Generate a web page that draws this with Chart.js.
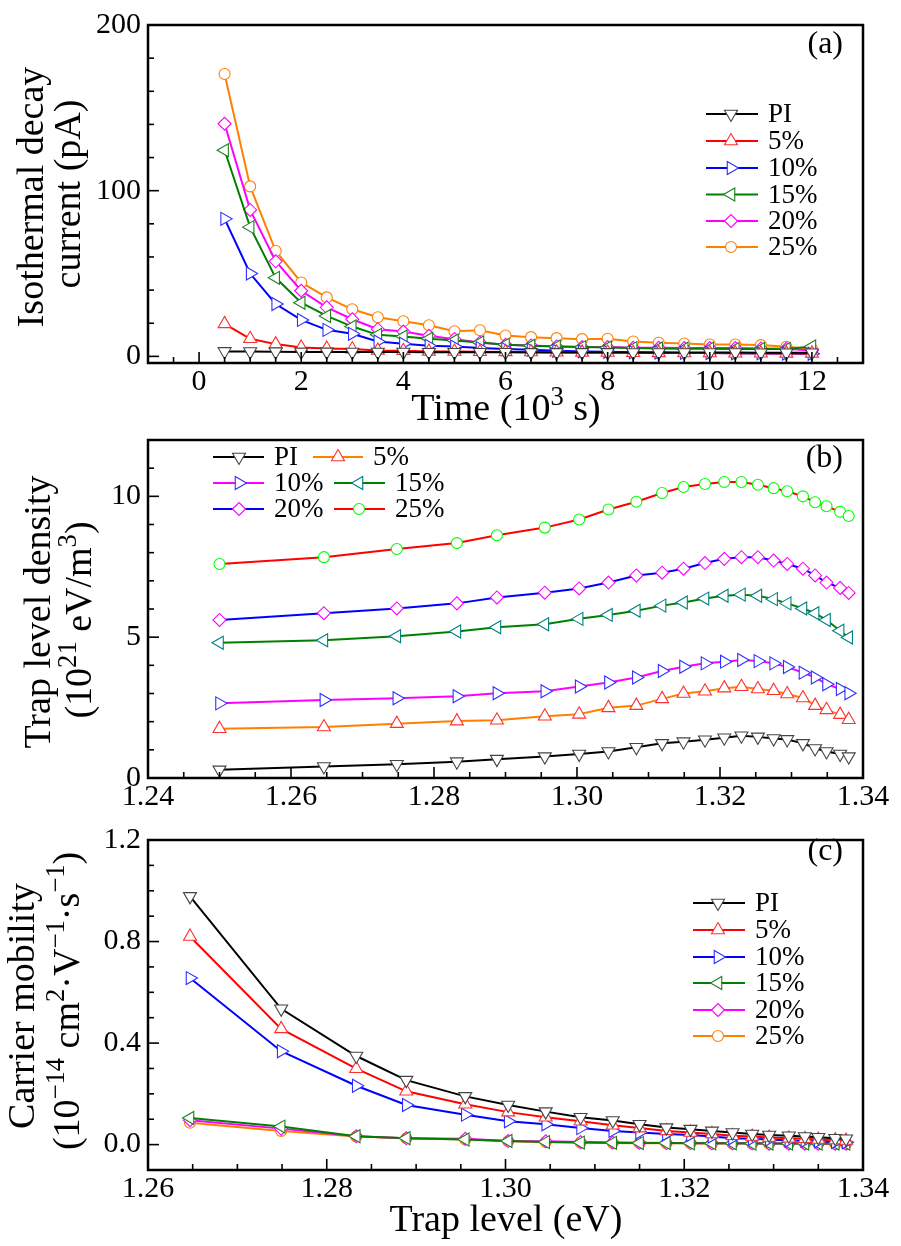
<!DOCTYPE html>
<html><head><meta charset="utf-8">
<script src="https://cdn.jsdelivr.net/npm/chart.js@4.4.0/dist/chart.umd.min.js"></script>
<style>
html,body{margin:0;padding:0;background:#fff;}
#wrap{position:relative;width:901px;height:1246px;overflow:hidden;}
canvas{position:absolute;left:0;}
</style></head><body>
<div id="wrap">
<canvas id="ca" width="901" height="440" style="top:0px"></canvas>
<canvas id="cb" width="901" height="410" style="top:415px"></canvas>
<canvas id="cc" width="901" height="431" style="top:815px"></canvas>
</div>
<script>
// ---------- DATA ----------
const seriesNames = ['PI', '5%', '10%', '15%', '20%', '25%'];

// Panel (a): isothermal decay current (pA) vs time (10^3 s)
const timeA = [0.5,1.0,1.5,2.0,2.5,3.0,3.5,4.0,4.5,5.0,5.5,6.0,6.5,7.0,7.5,8.0,8.5,9.0,9.5,10.0,10.5,11.0,11.5,12.0];
const piA  = [3.0,2.9,2.8,2.7,2.7,2.6,2.6,2.6,2.5,2.5,2.5,2.5,2.4,2.4,2.4,2.4,2.3,2.3,2.3,2.3,2.3,2.2,2.2,2.2];
const p5A  = [19.6,10.6,7.4,5.4,4.8,4.4,3.6,3.4,3.0,2.9,2.8,2.7,2.6,2.5,2.4,2.3,2.2,2.1,2.0,2.0,1.9,1.9,1.8,1.8];
const p10A = [83,50,31.6,22,16,13.6,9.0,7.6,6.4,6.0,5.0,4.4,4.0,3.4,3.0,2.8,2.5,2.3,2.1,2.0,1.9,1.8,1.7,1.6];
const p15A = [124.4,78,47.4,32.4,24.4,18,13,12,10.6,9.6,8.4,7.0,6.4,6.0,5.6,5.4,5.0,4.8,4.6,4.6,4.5,4.5,4.5,6.0];
const p20A = [140.4,88.4,57.4,39.6,29.6,22.4,16.4,15,12.4,10.4,8.4,7.0,6.6,6.0,5.6,5.6,5.2,5.2,5.0,5.0,5.0,4.8,4.6,3.6];
const p25A = [170.4,102.6,63.6,44.6,35.6,28.4,23.6,21.2,18.8,15.2,15.8,12.6,11.6,11.0,10.4,10.6,9.0,8.2,7.8,7.2,7.2,6.8,5.8,4.4];
const xTicksA = [0,2,4,6,8,10,12];
const yTicksA = [0,100,200];

// Panel (b): trap level density (10^21 eV/m^3) vs trap level (eV)
const trapLevelB = [1.2500,1.2646,1.2748,1.2832,1.2888,1.2955,1.3003,1.3044,1.3083,1.3119,1.3149,1.3179,1.3206,1.3230,1.3253,1.3275,1.3294,1.3316,1.3333,1.3349,1.3368,1.3380];
const piB  = [0.29,0.41,0.49,0.58,0.67,0.76,0.85,0.94,1.09,1.23,1.29,1.36,1.43,1.50,1.46,1.40,1.37,1.23,1.05,0.94,0.85,0.76];
const p5B  = [1.75,1.81,1.93,2.02,2.05,2.19,2.26,2.49,2.57,2.81,3.00,3.08,3.19,3.24,3.16,3.10,2.98,2.84,2.57,2.42,2.25,2.07];
const p10B = [2.65,2.77,2.83,2.90,3.01,3.08,3.25,3.39,3.57,3.80,3.95,4.07,4.13,4.19,4.15,4.07,3.94,3.74,3.57,3.33,3.16,3.01];
const p15B = [4.80,4.89,5.03,5.20,5.35,5.46,5.65,5.79,5.94,6.12,6.23,6.37,6.47,6.51,6.47,6.35,6.20,6.02,5.85,5.61,5.23,4.99];
const p20B = [5.61,5.85,6.02,6.20,6.41,6.58,6.73,6.94,7.19,7.29,7.43,7.63,7.78,7.84,7.84,7.72,7.60,7.43,7.19,6.94,6.75,6.57];
const p25B = [7.60,7.84,8.13,8.34,8.62,8.89,9.18,9.53,9.81,10.12,10.33,10.44,10.51,10.51,10.41,10.29,10.18,10.00,9.79,9.65,9.45,9.30];
const xTicksB = [1.24,1.26,1.28,1.30,1.32,1.34];
const yTicksB = [0,5,10];

// Panel (c): carrier mobility (10^-14 cm^2 V^-1 s^-1) vs trap level (eV)
const trapLevelC = [1.2647,1.2749,1.2833,1.2889,1.2955,1.3003,1.3045,1.3084,1.3120,1.3150,1.3180,1.3207,1.3231,1.3254,1.3276,1.3295,1.3317,1.3335,1.3350,1.3369,1.3381];
const piC  = [0.978,0.535,0.349,0.254,0.190,0.156,0.130,0.108,0.095,0.080,0.067,0.061,0.054,0.048,0.042,0.038,0.035,0.032,0.029,0.025,0.023];
const p5C  = [0.820,0.456,0.299,0.210,0.159,0.128,0.108,0.092,0.076,0.065,0.054,0.048,0.042,0.035,0.032,0.028,0.025,0.023,0.020,0.018,0.016];
const p10C = [0.656,0.368,0.232,0.156,0.118,0.092,0.080,0.065,0.054,0.048,0.042,0.038,0.032,0.025,0.023,0.020,0.016,0.015,0.013,0.010,0.009];
const p15C = [0.105,0.071,0.033,0.025,0.020,0.014,0.010,0.008,0.007,0.006,0.006,0.005,0.005,0.005,0.004,0.004,0.004,0.004,0.004,0.004,0.004];
const p20C = [0.096,0.063,0.033,0.025,0.023,0.014,0.013,0.010,0.008,0.007,0.006,0.006,0.005,0.005,0.005,0.004,0.004,0.004,0.004,0.004,0.004];
const p25C = [0.086,0.054,0.032,0.025,0.020,0.013,0.010,0.008,0.006,0.005,0.005,0.005,0.004,0.004,0.004,0.004,0.004,0.004,0.003,0.003,0.003];
const xTicksC = [1.26,1.28,1.30,1.32,1.34];
const yTicksC = [0.0,0.4,0.8,1.2];

// ---------- STYLE ----------
const FONT = '"Liberation Serif", "Times New Roman", serif';
const TITLE_SIZE = 38;
const markers = [
  {style:'triangle', rot:180, r:7.5},
  {style:'triangle', rot:0,   r:7.5},
  {style:'triangle', rot:90,  r:7.5},
  {style:'triangle', rot:270, r:7.5},
  {style:'rectRot',  rot:0,   r:6.5},
  {style:'circle',   rot:0,   r:5.5}
];

function makeDatasets(xs, ys, lineColors, markColors) {
  return ys.map((vals, i) => ({
    label: seriesNames[i],
    data: xs.map((x, k) => ({x: x, y: vals[k]})),
    borderColor: lineColors[i],
    borderWidth: 2,
    pointStyle: markers[i].style,
    pointRotation: markers[i].rot,
    pointRadius: markers[i].r,
    pointBorderColor: markColors[i],
    pointBackgroundColor: '#ffffff',
    pointBorderWidth: 1.1,
    tension: 0,
    clip: false
  }));
}

function parseRich(s) {
  const parts = []; let re = /\^\{([^}]*)\}/g, last = 0, m;
  while ((m = re.exec(s))) {
    if (m.index > last) parts.push({t: s.slice(last, m.index), sup: false});
    parts.push({t: m[1], sup: true});
    last = re.lastIndex;
  }
  if (last < s.length) parts.push({t: s.slice(last), sup: false});
  return parts;
}
function drawRich(ctx, str, x, y, size, rot) {
  const parts = parseRich(str);
  ctx.save();
  ctx.translate(x, y);
  if (rot) ctx.rotate(rot);
  const sup = size * 0.7;
  let w = 0;
  const ws = parts.map(p => { ctx.font = (p.sup ? sup : size) + 'px ' + FONT; const v = ctx.measureText(p.t).width; w += v; return v; });
  let cx = -w / 2;
  ctx.fillStyle = '#000'; ctx.textBaseline = 'alphabetic'; ctx.textAlign = 'left';
  parts.forEach((p, i) => {
    ctx.font = (p.sup ? sup : size) + 'px ' + FONT;
    ctx.fillText(p.t, cx, p.sup ? -size * 0.4 : 0);
    cx += ws[i];
  });
  ctx.restore();
}

function drawMarker(ctx, ds, x, y) {
  ctx.save();
  ctx.fillStyle = '#ffffff';
  ctx.strokeStyle = ds.pointBorderColor;
  ctx.lineWidth = ds.pointBorderWidth;
  const opts = {pointStyle: ds.pointStyle, rotation: ds.pointRotation, radius: ds.pointRadius, borderWidth: ds.pointBorderWidth};
  if (Chart.helpers && Chart.helpers.drawPoint) {
    Chart.helpers.drawPoint(ctx, opts, x, y);
  }
  ctx.restore();
}

const deco = {
  id: 'deco',
  afterDraw(chart, args, o) {
    const ctx = chart.ctx, a = chart.chartArea;
    const xs = chart.scales.x, ys = chart.scales.y;
    ctx.save();
    // inward ticks
    ctx.strokeStyle = '#000'; ctx.lineWidth = 1.6;
    const tick = (sc, start, step, major, horiz) => {
      const n = Math.round((sc.max - start) / step);
      for (let k = 0; k <= n; k++) {
        const v = start + k * step;
        if (v < sc.min - 1e-9 || v > sc.max + 1e-9) continue;
        const isMaj = Math.abs(v / major - Math.round(v / major)) < 1e-6;
        const len = isMaj ? 11 : 6;
        const p = sc.getPixelForValue(v);
        ctx.beginPath();
        if (horiz) { ctx.moveTo(p, a.bottom); ctx.lineTo(p, a.bottom - len); }
        else { ctx.moveTo(a.left, p); ctx.lineTo(a.left + len, p); }
        ctx.stroke();
      }
    };
    tick(xs, o.xMinorStart, o.xMinor, o.xMajor, true);
    tick(ys, o.yMinorStart, o.yMinor, o.yMajor, false);
    // frame
    ctx.lineWidth = 2.5;
    ctx.strokeRect(a.left, a.top, a.right - a.left, a.bottom - a.top);
    // panel label
    ctx.fillStyle = '#000';
    ctx.font = '32px ' + FONT; ctx.textAlign = 'right'; ctx.textBaseline = 'middle';
    ctx.fillText(o.panel, 843, o.panelY);
    // titles
    o.yTitles.forEach(t => drawRich(ctx, t.text, t.x, t.y, TITLE_SIZE, -Math.PI / 2));
    if (o.xTitle.text) drawRich(ctx, o.xTitle.text, o.xTitle.x, o.xTitle.y, TITLE_SIZE, 0);
    // legend
    o.legend.forEach(it => {
      const ds = chart.data.datasets[it.ds];
      ctx.strokeStyle = ds.borderColor; ctx.lineWidth = 2;
      ctx.beginPath(); ctx.moveTo(it.x1, it.y); ctx.lineTo(it.x2, it.y); ctx.stroke();
      drawMarker(ctx, ds, it.xm, it.y);
      ctx.fillStyle = '#000'; ctx.font = '27px ' + FONT; ctx.textAlign = 'left'; ctx.textBaseline = 'middle';
      ctx.fillText(ds.label, it.xt, it.y + 1);
    });
    ctx.restore();
  }
};

function axis(min, max, tickVals, fmt, fitKey, fitVal, pad) {
  return {
    type: 'linear', min: min, max: max,
    afterBuildTicks: s => { s.ticks = tickVals.map(v => ({value: v})); },
    afterFit: s => { s[fitKey] = fitVal; },
    ticks: {font: {family: FONT, size: 30}, color: '#000', padding: pad, autoSkip: false, maxRotation: 0,
            callback: v => fmt(v)},
    grid: {display: false, drawTicks: false},
    border: {display: false}
  };
}

function build(id, datasets, xsc, ysc, top, decoOpts) {
  return new Chart(document.getElementById(id), {
    type: 'line',
    data: {datasets: datasets},
    options: {
      responsive: false, animation: false, devicePixelRatio: 1,
      layout: {padding: {top: top, right: 38, left: 0, bottom: 0}, autoPadding: false},
      scales: {x: Object.assign(xsc, {position: 'bottom'}), y: Object.assign(ysc, {position: 'left'})},
      plugins: {legend: {display: false}, tooltip: {enabled: false}, deco: decoOpts}
    },
    plugins: [deco]
  });
}

const legendCol = (rows, x1, x2, xm, xt) => rows.map((y, i) => ({ds: i, x1: x1, x2: x2, xm: xm, xt: xt, y: y}));

// Panel (a): canvas 0..440, chart area 21..363
build('ca',
  makeDatasets(timeA, [piA, p5A, p10A, p15A, p20A, p25A],
    ['#000000', '#ff0000', '#0000ff', '#008000', '#ff00ff', '#ff8000'],
    ['#444444', '#ff3030', '#3030ff', '#208020', '#ff00ff', '#ff8000']),
  axis(-1, 13, xTicksA, v => String(v), 'height', 77, 1),
  axis(-4, 200, yTicksA, v => String(v), 'width', 148, 7),
  21,
  {panel: '(a)', panelY: 45,
   xMinorStart: -1, xMinor: 0.5, xMajor: 2, yMinorStart: 0, yMinor: 20, yMajor: 100,
   yTitles: [{text: 'Isothermal decay', x: 43, y: 197}, {text: 'current (pA)', x: 80, y: 194}],
   xTitle: {text: 'Time (10^{3} s)', x: 506, y: 420},
   legend: legendCol([114, 141, 168, 194.5, 221, 247], 706, 758, 731, 768)});

// Panel (b): canvas 415..825, chart area 437..778
build('cb',
  makeDatasets(trapLevelB, [piB, p5B, p10B, p15B, p20B, p25B],
    ['#000000', '#ff8000', '#ff00ff', '#008000', '#0000ff', '#ff0000'],
    ['#444444', '#ff3030', '#3030ff', '#008080', '#ff00ff', '#00ff00']),
  axis(1.24, 1.34, xTicksB, v => v.toFixed(2), 'height', 47, 1),
  axis(0, 12, yTicksB, v => String(v), 'width', 148, 7),
  22,
  {panel: '(b)', panelY: 44,
   xMinorStart: 1.24, xMinor: 0.005, xMajor: 0.02, yMinorStart: 0, yMinor: 1, yMajor: 5,
   yTitles: [{text: 'Trap level density', x: 50, y: 197}, {text: '(10^{21} eV/m^{3})', x: 91, y: 205}],
   xTitle: {text: '', x: 506, y: 0},
   legend: [
     {ds: 0, x1: 213, x2: 264, xm: 239, xt: 274, y: 42},
     {ds: 1, x1: 313, x2: 363, xm: 338, xt: 373, y: 42},
     {ds: 2, x1: 213, x2: 264, xm: 239, xt: 274, y: 68},
     {ds: 3, x1: 334, x2: 385, xm: 359, xt: 395, y: 68},
     {ds: 4, x1: 213, x2: 264, xm: 239, xt: 274, y: 94},
     {ds: 5, x1: 334, x2: 385, xm: 359, xt: 395, y: 94}
   ]});

// Panel (c): canvas 815..1246, chart area 831..1170
build('cc',
  makeDatasets(trapLevelC, [piC, p5C, p10C, p15C, p20C, p25C],
    ['#000000', '#ff0000', '#0000ff', '#008000', '#ff00ff', '#ff8000'],
    ['#444444', '#ff3030', '#3030ff', '#208020', '#ff00ff', '#ff8000']),
  axis(1.26, 1.34, xTicksC, v => v.toFixed(2), 'height', 76, 1),
  axis(-0.1, 1.2, yTicksC, v => v.toFixed(1), 'width', 148, 7),
  16,
  {panel: '(c)', panelY: 37,
   xMinorStart: 1.26, xMinor: 0.005, xMajor: 0.02, yMinorStart: -0.1, yMinor: 0.1, yMajor: 0.4,
   yTitles: [{text: 'Carrier mobility', x: 34, y: 191}, {text: '(10^{\u221214} cm^{2}\u00b7V^{\u22121}\u00b7s^{\u22121})', x: 79, y: 186}],
   xTitle: {text: 'Trap level (eV)', x: 506, y: 416},
   legend: legendCol([88, 115, 142, 168, 195, 221], 693, 745, 718, 755)});
</script>
</body></html>
